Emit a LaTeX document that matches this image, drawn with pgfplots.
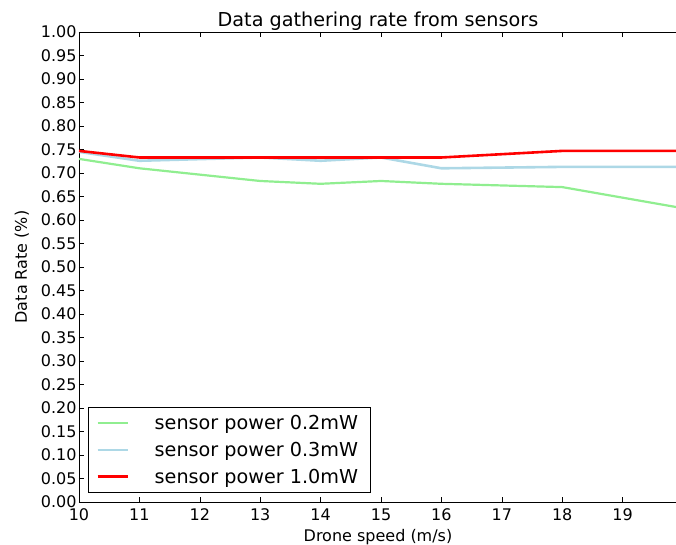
\documentclass[border=0pt]{standalone}
\usepackage{fontspec}
\setmainfont{DejaVu Sans}
\usepackage{pgfplots}
\pgfplotsset{compat=1.18}

\definecolor{lgreen}{RGB}{144,238,144}
\definecolor{lblue}{RGB}{173,216,230}

\begin{document}
\begin{tikzpicture}
\begin{axis}[
  scale only axis,
  width=598pt, height=470pt,
  xmin=10, xmax=19.9,
  ymin=0, ymax=1,
  axis y line*=left,
  xtick={10,...,19},
  ytick={0,0.05,...,1.0001},
  yticklabel style={xshift=1pt, /pgf/number format/.cd,fixed,fixed zerofill,precision=2},
  /pgf/number format/assume math mode=true,
  tick align=inside,
  major tick length=5pt,
  tick style={black, line width=0.6pt},
  axis line style={line width=0.8pt},
  ticklabel style={font=\fontsize{16}{18}\selectfont},
  xticklabel style={yshift=-3pt},
  xlabel={Drone speed (m/s)},
  ylabel={Data Rate (\%)},
  label style={font=\fontsize{16}{18}\selectfont},
  xlabel style={yshift=-2pt},
  ylabel style={yshift=5pt},
  title={Data gathering rate from sensors},
  title style={font=\fontsize{19.2}{22}\selectfont, yshift=-8pt},
  legend style={at={(9/598,9/470)}, anchor=south west, draw=black,
    line width=0.8pt, font=\fontsize{19.2}{22}\selectfont,
    row sep=7pt, inner xsep=8pt, inner ysep=6pt},
  legend cell align=left,
  legend image code/.code={\draw[#1] (0pt,0pt) -- (30pt,0pt); \path[draw=none] (0pt,0pt) -- (53pt,0pt);},
  every axis legend/.append style={nodes={right, inner xsep=4pt}},
]
\addplot[color=lgreen, line width=2.2pt] coordinates {
(10,0.730) (11,0.710) (13,0.683) (14,0.677) (15,0.683) (16,0.677) (18,0.670) (20,0.625)
};
\addlegendentry{sensor power 0.2mW}
\addplot[color=lblue, line width=2.6pt] coordinates {
(10,0.745) (11,0.726) (13,0.733) (14,0.726) (15,0.733) (16,0.710) (18,0.713) (20,0.713)
};
\addlegendentry{sensor power 0.3mW}
\addplot[color=red, line width=2.6pt] coordinates {
(10,0.747) (11,0.733) (13,0.733) (14,0.733) (15,0.733) (16,0.733) (18,0.747) (20,0.747)
};
\addlegendentry{sensor power 1.0mW}
\end{axis}
\pgfresetboundingbox
\path ([shift={(-79pt,-43pt)}]current axis.south west) rectangle ([shift={(597pt,32pt)}]current axis.north west);
\end{tikzpicture}
\end{document}
